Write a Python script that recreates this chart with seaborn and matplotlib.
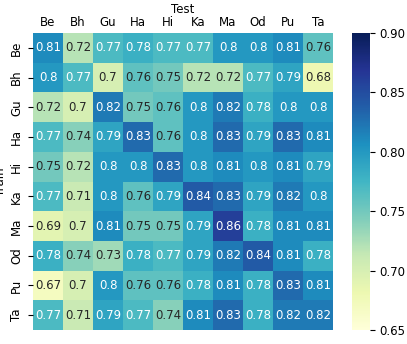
import numpy as np
import pandas as pd
import matplotlib
matplotlib.use('Agg')
import matplotlib.pyplot as plt
import seaborn as sns

langs = ['Be', 'Bh', 'Gu', 'Ha', 'Hi', 'Ka', 'Ma', 'Od', 'Pu', 'Ta']
cbar_ticks = [0.65, 0.70, 0.75, 0.80, 0.85, 0.90]

# rows = Train, columns = Test
be = [0.81, 0.72, 0.77, 0.78, 0.77, 0.77, 0.80, 0.80, 0.81, 0.76]
bh = [0.80, 0.77, 0.70, 0.76, 0.75, 0.72, 0.72, 0.77, 0.79, 0.68]
gu = [0.72, 0.70, 0.82, 0.75, 0.76, 0.80, 0.82, 0.78, 0.80, 0.80]
ha = [0.77, 0.74, 0.79, 0.83, 0.76, 0.80, 0.83, 0.79, 0.83, 0.81]
hi = [0.75, 0.72, 0.80, 0.80, 0.83, 0.80, 0.81, 0.80, 0.81, 0.79]
ka = [0.77, 0.71, 0.80, 0.76, 0.79, 0.84, 0.83, 0.79, 0.82, 0.80]
ma = [0.69, 0.70, 0.81, 0.75, 0.75, 0.79, 0.86, 0.78, 0.81, 0.81]
od = [0.78, 0.74, 0.73, 0.78, 0.77, 0.79, 0.82, 0.84, 0.81, 0.78]
pu = [0.67, 0.70, 0.80, 0.76, 0.76, 0.78, 0.81, 0.78, 0.83, 0.81]
ta = [0.77, 0.71, 0.79, 0.77, 0.74, 0.81, 0.83, 0.78, 0.82, 0.82]

df = pd.DataFrame([be, bh, gu, ha, hi, ka, ma, od, pu, ta], index=langs, columns=langs)

plt.rcParams['font.size'] = 8.5
fig = plt.figure(figsize=(4.07, 3.44), dpi=100)
ax = fig.add_axes([33 / 407, 14 / 344, 300 / 407, 297 / 344])
cax = fig.add_axes([352 / 407, 14 / 344, 18 / 407, 297 / 344])

sns.heatmap(df, ax=ax, cbar_ax=cax, cmap='YlGnBu', vmin=0.65, vmax=0.9,
            annot=True, fmt='.2g', annot_kws={'size': 8.5},
            cbar_kws={'ticks': cbar_ticks, 'format': '%.2f'})

ax.xaxis.tick_top()
ax.xaxis.set_label_position('top')
ax.tick_params(axis='x', length=0, pad=3)
ax.set_xlabel('Test', labelpad=2)
ax.set_ylabel('Train', labelpad=2)
ax.set_yticklabels(langs, rotation=90, va='center')
ax.set_xticklabels(langs, rotation=0)
cax.tick_params(labelsize=8.5)

fig.savefig('out.png', dpi=100)
